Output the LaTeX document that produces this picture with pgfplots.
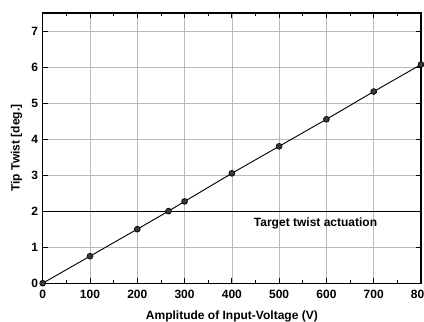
\documentclass[border=0pt]{standalone}
\usepackage{pgfplots}
\pgfplotsset{compat=1.18}
\usepackage{fontspec}
\setmainfont{Liberation Sans}
\begin{document}
\begin{tikzpicture}
\begin{axis}[
  scale only axis,
  width=283.5pt, height=202.5pt,
  xmin=0, xmax=800, ymin=0, ymax=7.5,
  xtick={0,100,...,800}, ytick={0,1,...,7},
  minor xtick={50,150,...,750},
  tick align=inside,
  major tick length=4pt, minor tick length=2.5pt,
  grid=major,
  grid style={gray!55, line width=0.4pt},
  axis line style={line width=1pt},
  every tick/.style={black, line width=0.6pt},
  tick label style={font=\fontsize{9}{10}\selectfont\bfseries},
  xticklabel style={yshift=-1.5pt},
  /pgf/number format/assume math mode=true,
  xlabel={Amplitude of Input-Voltage (V)},
  ylabel={Tip Twist [deg.]},
  label style={font=\fontsize{9}{10}\selectfont\bfseries},
  xlabel style={yshift=-2.5pt},
  ylabel style={yshift=0pt},
  clip=false,
]
\addplot[black, line width=0.7pt, mark=*, mark size=2.2pt,
  mark options={fill=gray!45!black, draw=black, line width=0.5pt}]
coordinates {(0,0) (100,0.75) (200,1.5) (266,2.0) (300,2.27) (400,3.05) (500,3.8) (600,4.55) (700,5.32) (800,6.07)};
\addplot[black, line width=0.9pt] coordinates {(0,2) (800,2)};
\node[font=\fontsize{9}{10}\selectfont\bfseries] at (axis cs:577,1.67) {Target twist actuation};
\coordinate (SW) at (rel axis cs:0,0);
\coordinate (NE) at (rel axis cs:1,1);
\end{axis}
\pgfresetboundingbox
\path[use as bounding box] ([shift={(-32pt,-28.5pt)}]SW) rectangle ([shift={(2.25pt,9.75pt)}]NE);
\end{tikzpicture}
\end{document}
